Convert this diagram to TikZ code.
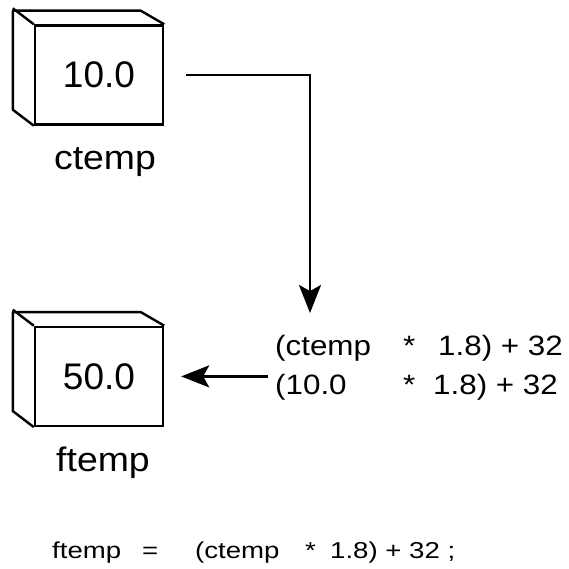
\documentclass[tikz,border=0pt]{standalone}
\usepackage{fontspec}
\setmainfont{Liberation Sans}
\newfontfamily\widesans[FakeStretch=1.12]{Liberation Sans}
\newfontfamily\namesans[FakeStretch=1.1]{Liberation Sans}
\newfontfamily\stmtsans[FakeStretch=1.2]{Liberation Sans}
\usetikzlibrary{arrows.meta,positioning}
\tikzset{
  >={Stealth[length=28pt,width=22pt,inset=6pt]},
  crate/.style={
    draw, rectangle, line width=2.4pt, inner sep=0pt,
    minimum width=128pt, minimum height=99pt,
    font=\fontsize{37}{40}\selectfont
  },
  varname/.style={
    inner sep=0pt, font=\namesans\fontsize{34}{38}\selectfont
  },
  expr/.style={
    inner sep=0pt, align=left, font=\widesans\fontsize{28}{39}\selectfont
  },
  stmt/.style={
    inner sep=0pt, font=\stmtsans\fontsize{23}{26}\selectfont
  },
  flow/.style={line width=2.4pt},
}
\newcommand\cratedepth[1]{%
  \draw[line width=2.4pt, line join=round]
    (#1.south west) -- ++(-21,-16) -- ++(0,-99) -- ++(128,0) -- (#1.north east);
  \draw[line width=2.4pt] (#1.north west) -- ++(-21,-16);
}

\begin{document}
\begin{tikzpicture}[x=1pt, y=-1pt]
  \useasboundingbox (0,0) rectangle (568,569);
  \node[crate] (ctemp) at (99,75) {10.0};
  \node[crate, below=200pt of ctemp] (ftemp) {50.0};
  \cratedepth{ctemp}
  \cratedepth{ftemp}
  \node[varname, below=22pt of ctemp, xshift=6pt] (cname) {ctemp};
  \node[varname, below=20pt of ftemp, xshift=4pt] (fname) {ftemp};
  \node[expr, anchor=north west] (eval) at (275,335)
    {\makebox[128pt][l]{(ctemp}\makebox[35pt][l]{*}1.8) + 32\\
     \makebox[128pt][l]{(10.0}\makebox[30pt][l]{*}1.8) + 32};
  \node[stmt, anchor=base west] (assign) at (52,558)
    {\makebox[90pt][l]{ftemp}\makebox[53pt][l]{=}\makebox[110pt][l]{(ctemp}\makebox[25pt][l]{*}1.8) + 32 ;};
  \coordinate (bend) at (310,75);
  \draw[flow, ->, shorten <=22pt, shorten >=22pt] (ctemp.east) -- (bend) -- (bend |- eval.north);
  \draw[flow, <-, shorten <=17pt, shorten >=7pt] (ftemp.east) -- (ftemp.east -| eval.west);
\end{tikzpicture}
\end{document}
